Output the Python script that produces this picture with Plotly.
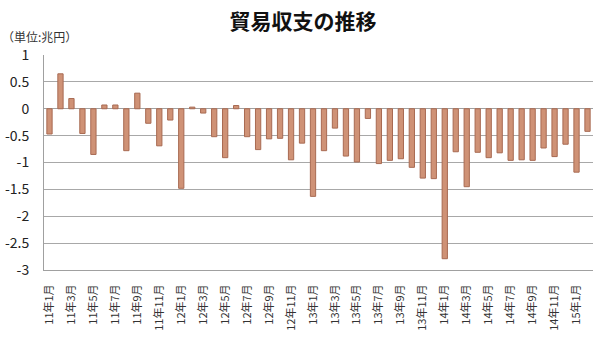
import plotly.graph_objects as go

years = [11] * 12 + [12] * 12 + [13] * 12 + [14] * 12 + [15] * 2
months = list(range(1, 13)) * 4 + [1, 2]
categories = [f"{y}年{m}月" for y, m in zip(years, months)]
balance = [
    -0.47, 0.65, 0.19, -0.46, -0.85, 0.07, 0.07, -0.78, 0.29, -0.27, -0.69, -0.21,
    -1.48, 0.03, -0.08, -0.52, -0.91, 0.06, -0.52, -0.76, -0.56, -0.55, -0.95, -0.64,
    -1.63, -0.78, -0.36, -0.88, -0.99, -0.18, -1.02, -0.96, -0.93, -1.09, -1.29, -1.30,
    -2.79, -0.80, -1.45, -0.81, -0.91, -0.82, -0.96, -0.95, -0.96, -0.73, -0.89, -0.66,
    -1.18, -0.42,
]
xtick_labels = categories[::2]
ytick_vals = [1, 0.5, 0, -0.5, -1, -1.5, -2, -2.5, -3]
ytick_text = ["1", "0.5", "0", "-0.5", "-1", "-1.5", "-2", "-2.5", "-3"]

font_family = "Noto Sans CJK JP"

fig = go.Figure()
fig.add_trace(go.Bar(
    x=categories, y=balance,
    width=0.48,
    marker=dict(color="#CF9276", line=dict(color="#A86A52", width=1)),
))

fig.update_layout(
    width=600, height=344,
    margin=dict(l=44, r=7, t=55, b=74),
    paper_bgcolor="white", plot_bgcolor="white",
    showlegend=False,
    font=dict(family=font_family, color="#222"),
    title=dict(text="<b>貿易収支の推移</b>", x=0.505, xanchor="center", y=0.936, yanchor="middle",
               font=dict(size=21, color="#111", family=font_family)),
    annotations=[dict(text="（単位:兆円）", xref="paper", yref="paper", x=-0.08, y=1.085,
                      xanchor="left", yanchor="middle", showarrow=False,
                      font=dict(size=12, color="#333", family=font_family))],
)
fig.update_xaxes(
    type="category", tickmode="array", tickvals=xtick_labels, ticktext=xtick_labels,
    tickangle=-90, tickfont=dict(size=11, color="#333"),
    showline=True, linecolor="#A0A0A0", linewidth=1, showgrid=False,
    ticks="outside", ticklen=9, tickcolor="rgba(0,0,0,0)", automargin=False,
)
fig.update_yaxes(
    range=[-3, 1], tickmode="array", tickvals=ytick_vals, ticktext=ytick_text,
    tickfont=dict(size=14, color="#222"),
    showgrid=True, gridcolor="#A8A8A8", gridwidth=1,
    zeroline=True, zerolinecolor="#A0A0A0", zerolinewidth=1,
    showline=True, linecolor="#A0A0A0", linewidth=1,
    ticks="outside", ticklen=11, tickcolor="rgba(0,0,0,0)", automargin=False,
)

fig.write_html("out.html")
